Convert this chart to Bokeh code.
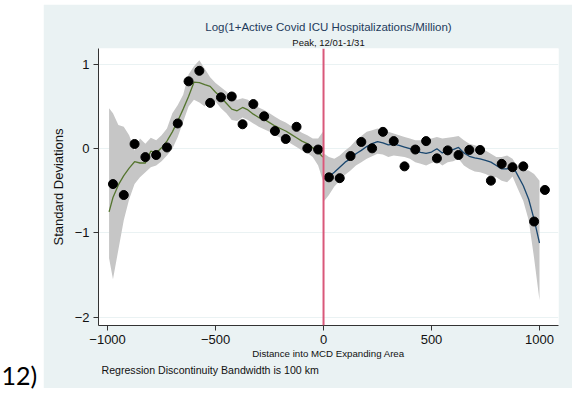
from bokeh.plotting import figure
from bokeh.models import Range1d, FixedTicker, Span, Label, Spacer, Title
from bokeh.layouts import row, column
from bokeh.embed import file_html
from bokeh.resources import INLINE

# Binned means (standard deviations) by distance into the MCD expanding area (km)
left_bins = [-975, -925, -875, -825, -775, -725, -675, -625, -575, -525,
             -475, -425, -375, -325, -275, -225, -175, -125, -75, -25]
left_means = [-0.42, -0.55, 0.056, -0.10, -0.075, 0.015, 0.30, 0.80, 0.925, 0.544,
              0.61, 0.62, 0.29, 0.53, 0.385, 0.21, 0.115, 0.26, 0.004, -0.01]
right_bins = [25, 75, 125, 175, 225, 275, 325, 375, 425, 475, 525, 575, 625,
              675, 725, 775, 825, 875, 925, 975, 1025]
right_means = [-0.34, -0.35, -0.087, 0.08, 0.004, 0.20, 0.09, -0.21, -0.01, 0.09,
               -0.115, -0.02, -0.075, -0.015, -0.015, -0.38, -0.18, -0.22, -0.21,
               -0.865, -0.49]

# Local fit and confidence band, outside side of the border
left_x = [-993, -975, -950, -925, -900, -875, -850, -825, -800, -775, -750, -725,
          -700, -675, -650, -625, -600, -575, -550, -525, -500, -475, -450, -425,
          -400, -375, -350, -325, -300, -275, -250, -225, -200, -175, -150, -125,
          -100, -75, -50, -25, -3]
left_fit = [-0.75, -0.58, -0.43, -0.32, -0.23, -0.155, -0.17, -0.17, -0.03, -0.05,
            0.01, 0.09, 0.2, 0.33, 0.47, 0.62, 0.79, 0.785, 0.76, 0.74, 0.67, 0.61,
            0.54, 0.47, 0.45, 0.49, 0.46, 0.41, 0.37, 0.35, 0.31, 0.27, 0.24, 0.21,
            0.17, 0.13, 0.09, 0.06, 0.01, -0.04, -0.1]
left_hi = [0.48, 0.42, 0.28, 0.26, 0.16, -0.02, 0.12, 0.06, 0.13, 0.1, 0.16, 0.24,
           0.42, 0.52, 0.64, 0.88, 0.98, 1.05, 0.95, 0.85, 0.78, 0.73, 0.68, 0.62,
           0.58, 0.6, 0.58, 0.53, 0.49, 0.46, 0.42, 0.38, 0.34, 0.31, 0.27, 0.23,
           0.19, 0.16, 0.12, 0.12, 0.2]
left_lo = [-1.3, -1.55, -1.2, -0.85, -0.6, -0.42, -0.34, -0.28, -0.22, -0.2, -0.15,
           -0.08, 0.0, 0.14, 0.32, 0.5, 0.58, 0.55, 0.5, 0.6, 0.56, 0.48, 0.42,
           0.34, 0.33, 0.37, 0.34, 0.3, 0.26, 0.23, 0.2, 0.16, 0.13, 0.1, 0.06,
           0.02, -0.02, -0.05, -0.1, -0.2, -0.38]

# Local fit and confidence band, inside the expanding area
right_x = [3, 25, 50, 75, 100, 125, 150, 175, 200, 225, 250, 275, 300, 325, 350,
           375, 400, 425, 450, 475, 500, 525, 550, 575, 600, 625, 650, 675, 700,
           725, 750, 775, 800, 825, 850, 875, 900, 925, 950, 975, 1000]
right_fit = [-0.36, -0.33, -0.28, -0.22, -0.16, -0.12, -0.06, -0.02, 0.025, 0.06,
             0.085, 0.07, 0.045, 0.055, 0.04, 0.02, 0.0, -0.03, -0.045, -0.055,
             -0.04, 0.0, -0.05, -0.02, -0.01, 0.015, -0.05, -0.09, -0.11, -0.12,
             -0.14, -0.16, -0.2, -0.24, -0.24, -0.2, -0.32, -0.44, -0.6, -0.84,
             -1.12]
right_hi = [-0.06, -0.1, -0.12, -0.08, -0.02, 0.03, 0.1, 0.15, 0.2, 0.22, 0.24,
            0.22, 0.2, 0.18, 0.16, 0.14, 0.12, 0.1, 0.1, 0.1, 0.12, 0.14, 0.12,
            0.13, 0.14, 0.15, 0.1, 0.06, 0.04, 0.02, -0.02, -0.06, -0.1, -0.1,
            -0.08, -0.12, -0.22, -0.25, -0.26, -0.3, -0.38]
right_lo = [-0.62, -0.55, -0.45, -0.38, -0.31, -0.26, -0.2, -0.16, -0.12, -0.09,
            -0.06, -0.07, -0.1, -0.08, -0.09, -0.1, -0.12, -0.16, -0.18, -0.2,
            -0.17, -0.15, -0.2, -0.16, -0.15, -0.12, -0.2, -0.24, -0.27, -0.28,
            -0.3, -0.33, -0.34, -0.38, -0.4, -0.33, -0.48, -0.62, -0.85, -1.3,
            -1.8]

x_ticks = [-1000, -500, 0, 500, 1000]
y_ticks = [-2, -1, 0, 1]

PANEL = "#eaf2f3"
FONT = "Liberation Sans"
INK = "#111111"

p = figure(width=529, height=384, output_backend="svg", toolbar_location=None,
           x_range=Range1d(-1042, 1088), y_range=Range1d(-2.1, 1.19),
           min_border_left=55, min_border_right=14, min_border_top=44,
           min_border_bottom=63)
p.background_fill_color = "white"
p.border_fill_color = PANEL
p.outline_line_color = None

p.xgrid.visible = False
p.ygrid.ticker = FixedTicker(ticks=y_ticks)
p.ygrid.grid_line_color = PANEL
p.ygrid.grid_line_width = 1.2

p.xaxis.ticker = FixedTicker(ticks=x_ticks)
p.yaxis.ticker = FixedTicker(ticks=y_ticks)
for ax in (p.xaxis, p.yaxis):
    ax.axis_line_color = "#333333"
    ax.major_tick_line_color = "#333333"
    ax.minor_tick_line_color = None
    ax.major_tick_out = 5
    ax.major_tick_in = 0
    ax.major_label_standoff = 4
    ax.major_label_text_font = FONT
    ax.major_label_text_font_size = "13px"
    ax.major_label_text_color = INK
    ax.axis_label_text_font = FONT
    ax.axis_label_text_font_style = "normal"
    ax.axis_label_text_color = INK
p.yaxis.major_label_orientation = "horizontal"

p.yaxis.axis_label = "Standard Deviations"
p.yaxis.axis_label_text_font_size = "13px"
p.yaxis.axis_label_standoff = 6
p.xaxis.axis_label = "Distance into MCD Expanding Area"
p.xaxis.axis_label_text_font_size = "9.7px"
p.xaxis.axis_label_standoff = 1

# Title and subtitle stacked above the frame (first added sits nearest)
p.add_layout(Title(text="Peak, 12/01-1/31", align="center", text_font=FONT,
                   text_font_size="9.5px", text_font_style="normal",
                   text_color=INK, standoff=2), "above")
p.add_layout(Title(text="Log(1+Active Covid ICU Hospitalizations/Million)",
                   align="center", text_font=FONT, text_font_size="11.5px",
                   text_font_style="normal", text_color="#1e3b5c", standoff=2),
             "above")
p.add_layout(Title(text="Regression Discontinuity Bandwidth is 100 km",
                   align="left", offset=3, text_font=FONT,
                   text_font_size="10.6px", text_font_style="normal",
                   text_color=INK, standoff=0), "below")

band = "#c6c6c6"
p.varea(x=left_x, y1=left_lo, y2=left_hi, fill_color=band)
p.varea(x=right_x, y1=right_lo, y2=right_hi, fill_color=band)
p.line(left_x, left_fit, line_color="#55752f", line_width=1.3)
p.line(right_x, right_fit, line_color="#1a476f", line_width=1.3)

p.add_layout(Span(location=0, dimension="height", line_color="#d9587a",
                  line_width=2))

p.scatter(left_bins, left_means, size=9, color="black")
p.scatter(right_bins, right_means, size=9, color="black")

# Panel number to the left of the graph
tag = figure(width=43, height=400, output_backend="svg", toolbar_location=None,
             x_range=Range1d(0, 43), y_range=Range1d(400, 0),
             x_axis_type=None, y_axis_type=None, min_border=0)
tag.outline_line_color = None
tag.background_fill_color = "white"
tag.border_fill_color = "white"
tag.xgrid.visible = False
tag.ygrid.visible = False
tag.add_layout(Label(x=1, y=374, text="12)", text_font="Lato",
                     text_font_size="25px", text_color="black",
                     text_align="left", text_baseline="middle"))

layout = row(tag, column(Spacer(width=529, height=4), p))

open("out.html", "w").write(file_html(layout, INLINE))
